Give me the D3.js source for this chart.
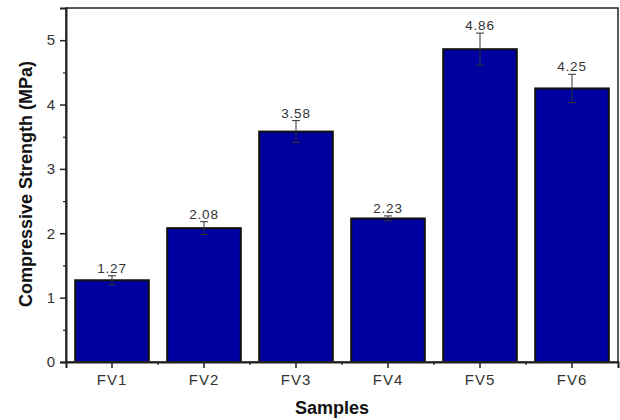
<!DOCTYPE html>
<html><head><meta charset="utf-8">
<script src="https://cdn.jsdelivr.net/npm/d3@7"></script>
<style>body{margin:0;background:#fff}svg{display:block}</style>
</head><body>
<svg id="c" width="620" height="420"></svg>
<script>
const categories = ["FV1","FV2","FV3","FV4","FV5","FV6"];
const values = [1.27, 2.08, 3.58, 2.23, 4.86, 4.25];
const errors = [0.07, 0.10, 0.17, 0.04, 0.25, 0.22];
const labels = ["1.27","2.08","3.58","2.23","4.86","4.25"];
const yTicks = [0,1,2,3,4,5];
const yMinor = [0.5,1.5,2.5,3.5,4.5];

const svg = d3.select("#c");
const m = {l:66, r:2, t:8, b:58};
const W = 620, H = 420;
const FONT = "Liberation Sans, Arial, sans-serif";
const x = d3.scaleBand().domain(categories).range([m.l, W-m.r]).paddingInner(0.2).paddingOuter(0.1);
const y = d3.scaleLinear().domain([0,5.5]).range([H-m.b, m.t]);

// bars
svg.append("g").selectAll("rect").data(values).join("rect")
  .attr("x",(d,i)=>x(categories[i]))
  .attr("y",d=>y(d))
  .attr("width",x.bandwidth())
  .attr("height",d=>y(0)-y(d))
  .attr("fill","#0000a0").attr("stroke","#111").attr("stroke-width",2);

// error bars
const eb = svg.append("g").attr("stroke","#333").attr("stroke-width",1);
values.forEach((v,i)=>{
  const cx = x(categories[i]) + x.bandwidth()/2;
  eb.append("line").attr("x1",cx).attr("x2",cx).attr("y1",y(v+errors[i])).attr("y2",y(v-errors[i]));
  eb.append("line").attr("x1",cx-4).attr("x2",cx+4).attr("y1",y(v+errors[i])).attr("y2",y(v+errors[i]));
  eb.append("line").attr("x1",cx-4).attr("x2",cx+4).attr("y1",y(v-errors[i])).attr("y2",y(v-errors[i]));
});

// value labels
svg.append("g").selectAll("text").data(values).join("text")
  .attr("x",(d,i)=>x(categories[i]) + x.bandwidth()/2)
  .attr("y",(d,i)=>y(d+errors[i]) - 3)
  .attr("text-anchor","middle")
  .attr("font-family",FONT)
  .attr("font-size",13.5).attr("letter-spacing",0.8).attr("fill","#333")
  .text((d,i)=>labels[i]);

// frame
svg.append("rect").attr("x",m.l).attr("y",m.t).attr("width",W-m.r-m.l).attr("height",H-m.b-m.t)
  .attr("fill","none").attr("stroke","#222").attr("stroke-width",1.5);

// y axis
const ya = svg.append("g").attr("transform",`translate(${m.l},0)`)
  .call(d3.axisLeft(y).tickValues(yTicks).tickFormat(d3.format("d")).tickSize(6).tickPadding(5));
ya.select(".domain").attr("stroke","#222").attr("stroke-width",2);
ya.selectAll(".tick line").attr("stroke","#222").attr("stroke-width",1.5);
ya.selectAll("text").attr("font-family",FONT).attr("font-size",15).attr("fill","#333");
svg.append("g").attr("transform",`translate(${m.l},0)`)
  .call(d3.axisLeft(y).tickValues(yMinor).tickFormat("").tickSize(3))
  .call(g=>g.select(".domain").remove())
  .selectAll("line").attr("stroke","#222").attr("stroke-width",1.2);

// x axis
const xa = svg.append("g").attr("transform",`translate(0,${H-m.b})`)
  .call(d3.axisBottom(x).tickSize(6).tickPadding(6));
xa.select(".domain").attr("stroke","#222").attr("stroke-width",2);
xa.selectAll(".tick line").attr("stroke","#222").attr("stroke-width",1.5);
xa.selectAll("text").attr("font-family",FONT).attr("font-size",15).attr("letter-spacing",1).attr("fill","#333");
// minor x ticks at band boundaries
const step = x.step();
const bounds = categories.slice(1).map(c=>x(c) - step*x.paddingInner()/2);
svg.append("g").selectAll("line").data(bounds).join("line")
  .attr("x1",d=>d).attr("x2",d=>d).attr("y1",H-m.b).attr("y2",H-m.b+3)
  .attr("stroke","#222").attr("stroke-width",1.2);

// titles
svg.append("text").attr("x",332).attr("y",414).attr("text-anchor","middle")
  .attr("font-family",FONT).attr("font-weight","bold").attr("font-size",18).attr("fill","#111")
  .text("Samples");
svg.append("text").attr("transform",`translate(32,184) rotate(-90)`).attr("text-anchor","middle")
  .attr("font-family",FONT).attr("font-weight","bold").attr("font-size",18).attr("fill","#111")
  .text("Compressive Strength (MPa)");
</script>
</body></html>
